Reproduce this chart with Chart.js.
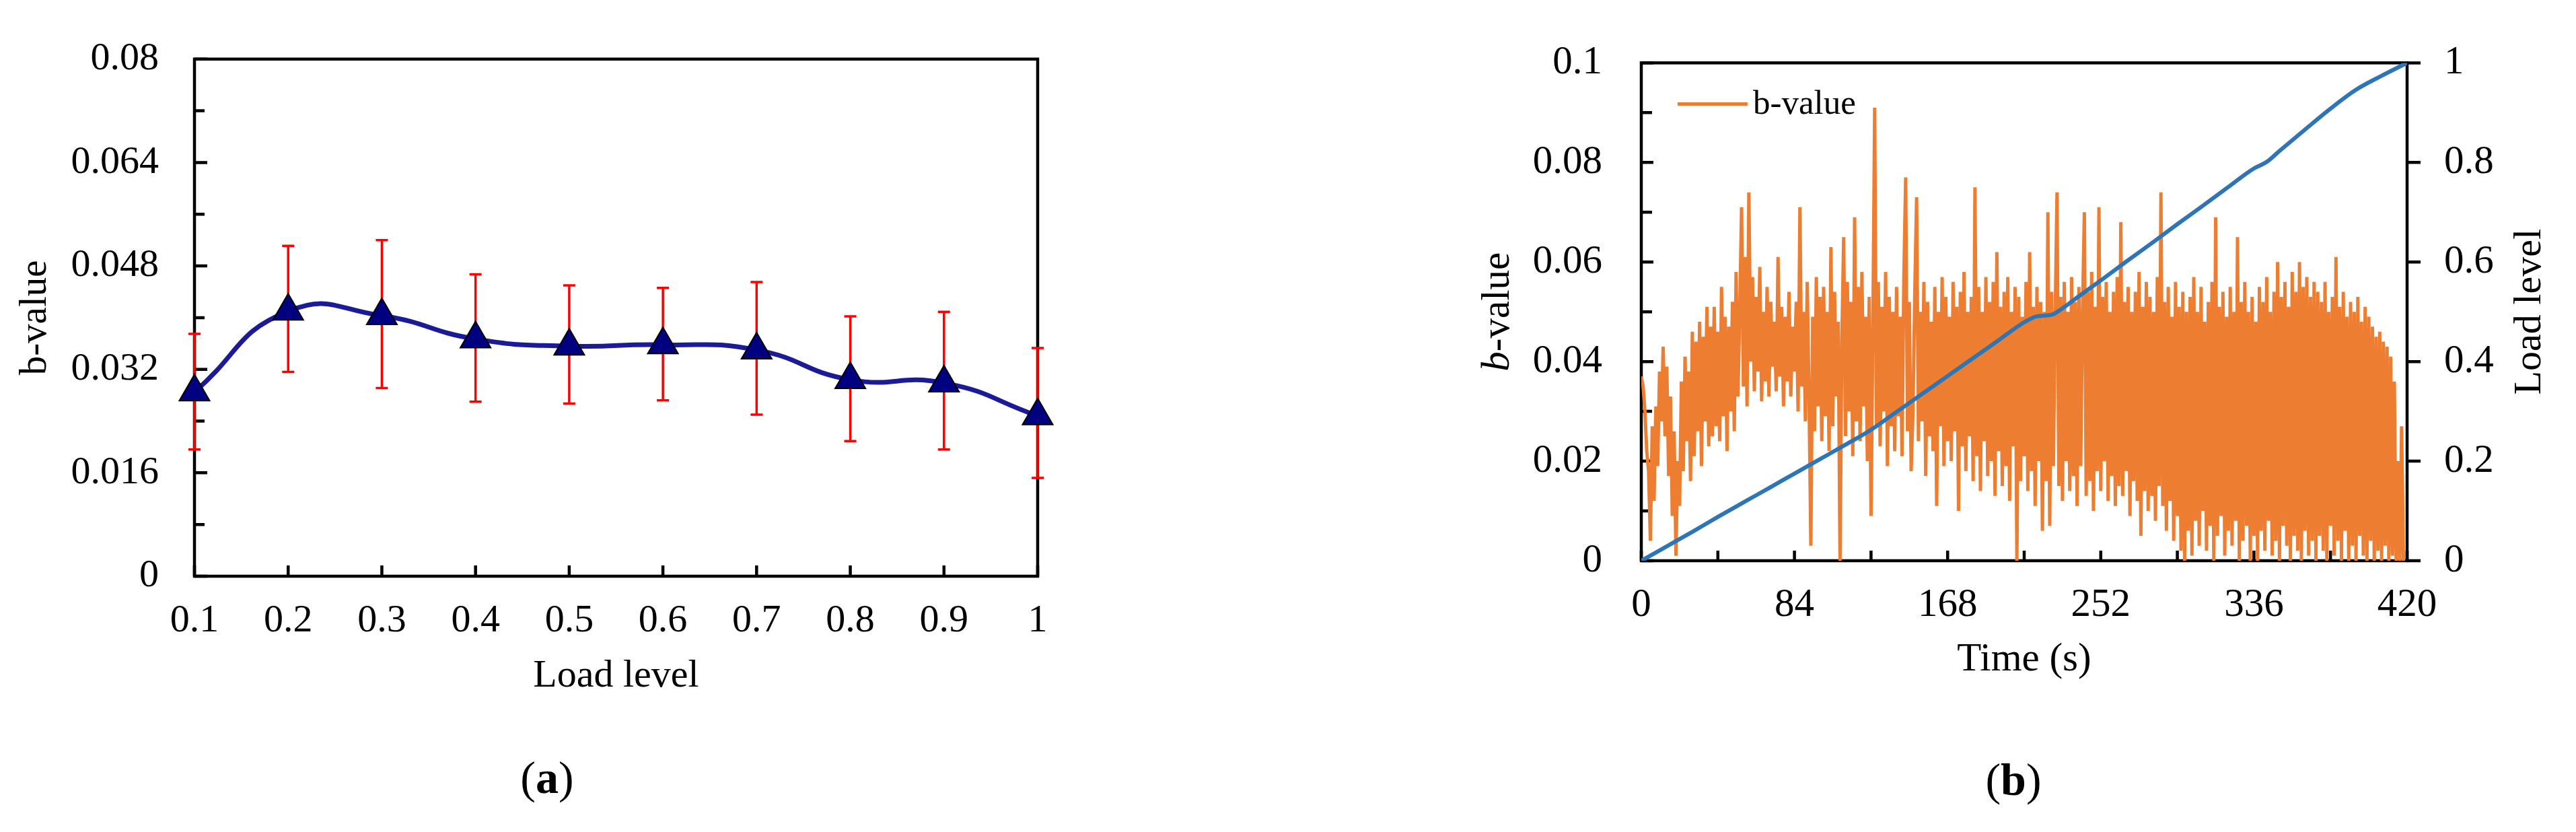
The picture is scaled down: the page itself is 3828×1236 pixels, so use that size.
<!DOCTYPE html>
<html>
<head>
<meta charset="utf-8">
<script src="https://cdn.jsdelivr.net/npm/chart.js@4.4.1/dist/chart.umd.min.js"></script>
<style>
html, body { margin: 0; padding: 0; background: #fff; }
#wrap { position: relative; width: 3828px; height: 1236px; overflow: hidden; background: #fff; }
canvas { position: absolute; top: 0; }
#ca { left: 0; }
#cb { left: 1914px; }
.cap { position: absolute; font-family: "Liberation Serif", "Times New Roman", serif; font-size: 68px; line-height: 1; transform: translate(-50%, -50%); color: #000; }
</style>
</head>
<body>
<div id="wrap">
  <canvas id="ca" width="1914" height="1236"></canvas>
  <canvas id="cb" width="1914" height="1236"></canvas>
  <div class="cap" style="left:813px; top:1155px;">(<b>a</b>)</div>
  <div class="cap" style="left:2992px; top:1158px;">(<b>b</b>)</div>
</div>
<script>
// ---------------- Panel (a) data ----------------
const loadLevels = ['0.1', '0.2', '0.3', '0.4', '0.5', '0.6', '0.7', '0.8', '0.9', '1'];
const bMean     = [0.0285, 0.0410, 0.0403, 0.0367, 0.0356, 0.0358, 0.0350, 0.0304, 0.0299, 0.0248];
const bErrHigh  = [0.0375, 0.0511, 0.0520, 0.0467, 0.0450, 0.0446, 0.0455, 0.0402, 0.0409, 0.0353];
const bErrLow   = [0.0196, 0.0316, 0.0291, 0.0270, 0.0267, 0.0272, 0.0250, 0.0209, 0.0196, 0.0152];
const yTicksA      = [0, 0.016, 0.032, 0.048, 0.064, 0.08];
const yMinorTicksA = [0.008, 0.024, 0.040, 0.056, 0.072];

// ---------------- Panel (b) data ----------------
// b-value samples, one per second starting at 0 s
const bValueStep = 1;
const bValue = [
  0.037, 0.035, 0.030, 0.022, 0.018, 0.004, 0.027, 0.012, 0.031, 0.019,
  0.038, 0.028, 0.043, 0.025, 0.039, 0.017, 0.033, 0.009, 0.026, 0.001,
  0.020, 0.011, 0.036, 0.018, 0.041, 0.024, 0.038, 0.016, 0.046, 0.021,
  0.044, 0.026, 0.048, 0.019, 0.045, 0.028, 0.051, 0.023, 0.047, 0.025,
  0.051, 0.027, 0.046, 0.024, 0.055, 0.029, 0.049, 0.022, 0.047, 0.030,
  0.052, 0.026, 0.058, 0.033, 0.050, 0.071, 0.035, 0.061, 0.031, 0.074,
  0.040, 0.057, 0.034, 0.053, 0.038, 0.059, 0.032, 0.050, 0.036, 0.055,
  0.033, 0.052, 0.039, 0.048, 0.034, 0.061, 0.037, 0.051, 0.031, 0.049,
  0.036, 0.054, 0.033, 0.047, 0.038, 0.052, 0.030, 0.071, 0.035, 0.050,
  0.028, 0.056, 0.033, 0.003, 0.049, 0.026, 0.057, 0.031, 0.053, 0.024,
  0.055, 0.029, 0.050, 0.022, 0.063, 0.027, 0.054, 0.033, 0.048, 0.000,
  0.044, 0.065, 0.025, 0.056, 0.030, 0.052, 0.021, 0.069, 0.028, 0.055,
  0.024, 0.058, 0.031, 0.049, 0.020, 0.053, 0.009, 0.046, 0.091, 0.027,
  0.056, 0.023, 0.051, 0.030, 0.058, 0.019, 0.053, 0.027, 0.050, 0.022,
  0.055, 0.029, 0.049, 0.021, 0.057, 0.077, 0.026, 0.052, 0.018, 0.030,
  0.054, 0.073, 0.024, 0.050, 0.028, 0.056, 0.017, 0.052, 0.025, 0.048,
  0.022, 0.055, 0.011, 0.050, 0.027, 0.057, 0.019, 0.053, 0.024, 0.049,
  0.020, 0.056, 0.026, 0.051, 0.010, 0.054, 0.023, 0.058, 0.018, 0.050,
  0.025, 0.053, 0.016, 0.075, 0.021, 0.055, 0.014, 0.050, 0.024, 0.057,
  0.017, 0.052, 0.020, 0.056, 0.013, 0.062, 0.022, 0.051, 0.015, 0.054,
  0.019, 0.057, 0.012, 0.050, 0.023, 0.055, 0.000, 0.053, 0.016, 0.049,
  0.021, 0.056, 0.014, 0.062, 0.018, 0.051, 0.011, 0.055, 0.020, 0.052,
  0.006, 0.050, 0.016, 0.070, 0.007, 0.054, 0.019, 0.049, 0.074, 0.015,
  0.053, 0.012, 0.056, 0.020, 0.050, 0.014, 0.057, 0.017, 0.052, 0.011,
  0.055, 0.019, 0.050, 0.070, 0.013, 0.054, 0.016, 0.058, 0.010, 0.051,
  0.018, 0.071, 0.014, 0.053, 0.020, 0.056, 0.012, 0.050, 0.017, 0.054,
  0.011, 0.057, 0.015, 0.068, 0.013, 0.052, 0.018, 0.055, 0.009, 0.050,
  0.016, 0.054, 0.012, 0.058, 0.005, 0.051, 0.014, 0.056, 0.010, 0.053,
  0.013, 0.050, 0.008, 0.057, 0.015, 0.074, 0.011, 0.052, 0.006, 0.055,
  0.012, 0.049, 0.004, 0.056, 0.009, 0.051, 0.002, 0.054, 0.000, 0.050,
  0.006, 0.053, 0.001, 0.057, 0.008, 0.050, 0.003, 0.055, 0.010, 0.048,
  0.002, 0.052, 0.007, 0.056, 0.000, 0.069, 0.005, 0.051, 0.009, 0.054,
  0.001, 0.049, 0.006, 0.055, 0.003, 0.050, 0.008, 0.065, 0.000, 0.052,
  0.004, 0.056, 0.007, 0.050, 0.000, 0.053, 0.005, 0.048, 0.000, 0.055,
  0.006, 0.052, 0.002, 0.057, 0.008, 0.050, 0.001, 0.054, 0.004, 0.060,
  0.000, 0.053, 0.007, 0.056, 0.003, 0.051, 0.000, 0.058, 0.005, 0.054,
  0.002, 0.060, 0.000, 0.055, 0.006, 0.057, 0.001, 0.053, 0.004, 0.056,
  0.000, 0.054, 0.005, 0.052, 0.002, 0.056, 0.000, 0.050, 0.007, 0.053,
  0.001, 0.061, 0.004, 0.051, 0.000, 0.054, 0.006, 0.049, 0.000, 0.052,
  0.003, 0.050, 0.000, 0.053, 0.005, 0.048, 0.001, 0.051, 0.000, 0.049,
  0.004, 0.047, 0.000, 0.045, 0.002, 0.046, 0.000, 0.044, 0.003, 0.043,
  0.000, 0.041, 0.001, 0.036, 0.000, 0.020, 0.000, 0.027, 0.000
];
const loadTime  = [0, 14, 28, 42, 56, 70, 84, 98, 112, 126, 140, 154, 168, 182, 196, 210, 217, 225, 231, 238,
                   252, 266, 280, 294, 308, 322, 336, 343, 350, 364, 378, 392, 406, 420];
const loadLevel = [0, 0.029, 0.058, 0.088, 0.117, 0.146, 0.175, 0.204, 0.233, 0.263, 0.299, 0.335, 0.371, 0.407, 0.443, 0.479, 0.491, 0.494, 0.507, 0.526,
                   0.563, 0.601, 0.638, 0.676, 0.713, 0.751, 0.788, 0.801, 0.823, 0.866, 0.908, 0.946, 0.974, 1.000];
const xTicksB       = [0, 84, 168, 252, 336, 420];
const xMinorTicksB  = [42, 126, 210, 294, 378];
const yTicksB       = [0, 0.02, 0.04, 0.06, 0.08, 0.1];
const yMinorTicksB  = [0.01, 0.03, 0.05, 0.07, 0.09];
const y1TicksB      = [0, 0.2, 0.4, 0.6, 0.8, 1];

// ---------------- shared styling ----------------
const FONT = "'Liberation Serif', 'Times New Roman', serif";
const fmt = v => String(+(+v).toFixed(4));

function hLine(ctx, x1, y1, x2, y2) { ctx.moveTo(x1, y1); ctx.lineTo(x2, y2); }

// ---------------- Panel (a) plugins ----------------
const frameA = {
  id: 'frameA',
  beforeDatasetsDraw(chart) {
    const { ctx, chartArea: a, scales: { x, y } } = chart;
    ctx.save();
    ctx.strokeStyle = '#000';
    ctx.lineWidth = 4.5;
    ctx.strokeRect(a.left, a.top, a.right - a.left, a.bottom - a.top);
    ctx.beginPath();
    yTicksA.forEach(v => { const py = y.getPixelForValue(v); hLine(ctx, a.left, py, a.left + 19, py); });
    yMinorTicksA.forEach(v => { const py = y.getPixelForValue(v); hLine(ctx, a.left, py, a.left + 15, py); });
    loadLevels.forEach((lab, i) => { const px = x.getPixelForValue(i); hLine(ctx, px, a.bottom, px, a.bottom - 16); });
    ctx.stroke();
    ctx.restore();
  }
};
const errorBars = {
  id: 'errorBars',
  beforeDatasetsDraw(chart) {
    const { ctx, scales: { x, y } } = chart;
    ctx.save();
    ctx.strokeStyle = '#FF0000';
    ctx.lineWidth = 3.5;
    ctx.beginPath();
    bMean.forEach((m, i) => {
      const px = x.getPixelForValue(i);
      const yl = y.getPixelForValue(bErrLow[i]);
      const yh = y.getPixelForValue(bErrHigh[i]);
      hLine(ctx, px, yl, px, yh);
      hLine(ctx, px - 9, yl, px + 9, yl);
      hLine(ctx, px - 9, yh, px + 9, yh);
    });
    ctx.stroke();
    ctx.restore();
  }
};

new Chart(document.getElementById('ca'), {
  type: 'line',
  data: {
    labels: loadLevels,
    datasets: [{
      label: 'b-value',
      data: bMean,
      borderColor: '#1B1B98',
      borderWidth: 7,
      tension: 0.5,
      fill: false,
      clip: false,
      pointStyle: 'triangle',
      pointRadius: 26,
      pointBackgroundColor: '#000080',
      pointBorderColor: '#000000',
      pointBorderWidth: 2
    }]
  },
  options: {
    responsive: false,
    maintainAspectRatio: false,
    animation: false,
    devicePixelRatio: 1,
    layout: { padding: { left: 0, top: 82, right: 372, bottom: 180 } },
    plugins: { legend: { display: false }, tooltip: { enabled: false } },
    scales: {
      x: {
        type: 'category',
        offset: false,
        grid: { display: false, drawTicks: false },
        border: { display: false },
        ticks: { color: '#000', font: { family: FONT, size: 58 }, padding: 32, autoSkip: false, maxRotation: 0, minRotation: 0 },
        title: { display: true, text: 'Load level', color: '#000', font: { family: FONT, size: 58 }, padding: { top: 0, bottom: 16 } },
        afterFit: s => { s.height = 200; }
      },
      y: {
        min: 0, max: 0.08,
        grid: { display: false, drawTicks: false },
        border: { display: false },
        afterBuildTicks: s => { s.ticks = yTicksA.map(v => ({ value: v })); },
        ticks: { color: '#000', font: { family: FONT, size: 58 }, padding: 53, callback: v => fmt(v) },
        title: { display: true, text: 'b-value', color: '#000', font: { family: FONT, size: 57 }, padding: { top: 19, bottom: 0 } },
        afterFit: s => { s.width = 289; }
      }
    }
  },
  plugins: [frameA, errorBars]
});

// ---------------- Panel (b) plugins ----------------
const frameB = {
  id: 'frameB',
  beforeDatasetsDraw(chart) {
    const { ctx, chartArea: a, scales: { x, y, y1 } } = chart;
    ctx.save();
    ctx.strokeStyle = '#000';
    ctx.lineWidth = 4.5;
    ctx.strokeRect(a.left, a.top, a.right - a.left, a.bottom - a.top);
    ctx.beginPath();
    yTicksB.forEach(v => { const py = y.getPixelForValue(v); hLine(ctx, a.left, py, a.left + 18, py); });
    yMinorTicksB.forEach(v => { const py = y.getPixelForValue(v); hLine(ctx, a.left, py, a.left + 16, py); });
    y1TicksB.forEach(v => { const py = y1.getPixelForValue(v); hLine(ctx, a.right, py, a.right + 20, py); });
    xTicksB.concat(xMinorTicksB).forEach(v => { const px = x.getPixelForValue(v); hLine(ctx, px, a.bottom, px, a.bottom - 15); });
    ctx.stroke();
    ctx.restore();
  }
};
const titlesB = {
  id: 'titlesB',
  afterDraw(chart) {
    const { ctx, chartArea: a } = chart;
    const midY = (a.top + a.bottom) / 2;
    ctx.save();
    ctx.fillStyle = '#000';
    ctx.textBaseline = 'middle';
    // left axis title: italic "b" + "-value"
    ctx.save();
    ctx.translate(a.left - 213, midY);
    ctx.rotate(-Math.PI / 2);
    const fI = 'italic 59px ' + FONT, fN = '59px ' + FONT;
    ctx.font = fI; const w1 = ctx.measureText('b').width;
    ctx.font = fN; const w2 = ctx.measureText('-value').width;
    const x0 = -(w1 + w2) / 2;
    ctx.textAlign = 'left';
    ctx.font = fI; ctx.fillText('b', x0, 0);
    ctx.font = fN; ctx.fillText('-value', x0 + w1, 0);
    ctx.restore();
    // right axis title
    ctx.save();
    ctx.translate(a.right + 183, midY);
    ctx.rotate(-Math.PI / 2);
    ctx.textAlign = 'center';
    ctx.font = '58px ' + FONT;
    ctx.fillText('Load level', 0, 0);
    ctx.restore();
    // legend (b-value series)
    const ds = chart.data.datasets[1];
    const ly = a.top + 61;
    ctx.strokeStyle = ds.borderColor;
    ctx.lineWidth = 5;
    ctx.beginPath();
    ctx.moveTo(a.left + 54, ly);
    ctx.lineTo(a.left + 158, ly);
    ctx.stroke();
    ctx.textAlign = 'left';
    ctx.font = '51px ' + FONT;
    ctx.fillText(ds.label, a.left + 166, ly + 1);
    ctx.restore();
  }
};

new Chart(document.getElementById('cb'), {
  type: 'line',
  data: {
    datasets: [
      {
        label: 'Load level',
        data: loadTime.map((t, i) => ({ x: t, y: loadLevel[i] })),
        yAxisID: 'y1',
        borderColor: '#2E75B6',
        borderWidth: 6,
        pointRadius: 0,
        cubicInterpolationMode: 'monotone',
        fill: false,
        order: 0
      },
      {
        label: 'b-value',
        data: bValue.map((v, i) => ({ x: i * bValueStep, y: v })),
        yAxisID: 'y',
        borderColor: '#ED7D31',
        borderWidth: 5,
        borderJoinStyle: 'miter',
        pointRadius: 0,
        tension: 0,
        fill: false,
        order: 1
      }
    ]
  },
  options: {
    responsive: false,
    maintainAspectRatio: false,
    animation: false,
    devicePixelRatio: 1,
    layout: { padding: { left: 0, top: 69, right: 0, bottom: 203 } },
    plugins: { legend: { display: false }, tooltip: { enabled: false } },
    scales: {
      x: {
        type: 'linear',
        min: 0, max: 420,
        grid: { display: false, drawTicks: false },
        border: { display: false },
        afterBuildTicks: s => { s.ticks = xTicksB.map(v => ({ value: v })); },
        ticks: { color: '#000', font: { family: FONT, size: 59 }, padding: 31, autoSkip: false, maxRotation: 0, minRotation: 0, callback: v => fmt(v) },
        title: { display: true, text: 'Time (s)', color: '#000', font: { family: FONT, size: 59 }, padding: { top: 0, bottom: 17 } },
        afterFit: s => { s.height = 200; }
      },
      y: {
        type: 'linear',
        position: 'left',
        min: 0, max: 0.1,
        grid: { display: false, drawTicks: false },
        border: { display: false },
        afterBuildTicks: s => { s.ticks = yTicksB.map(v => ({ value: v })); },
        ticks: { color: '#000', font: { family: FONT, size: 59 }, padding: 58, callback: v => fmt(v) },
        afterFit: s => { s.width = 525; }
      },
      y1: {
        type: 'linear',
        position: 'right',
        min: 0, max: 1,
        grid: { display: false, drawTicks: false },
        border: { display: false },
        afterBuildTicks: s => { s.ticks = y1TicksB.map(v => ({ value: v })); },
        ticks: { color: '#000', font: { family: FONT, size: 59 }, padding: 55, callback: v => fmt(v) },
        afterFit: s => { s.width = 251; }
      }
    }
  },
  plugins: [frameB, titlesB]
});
</script>
</body>
</html>
